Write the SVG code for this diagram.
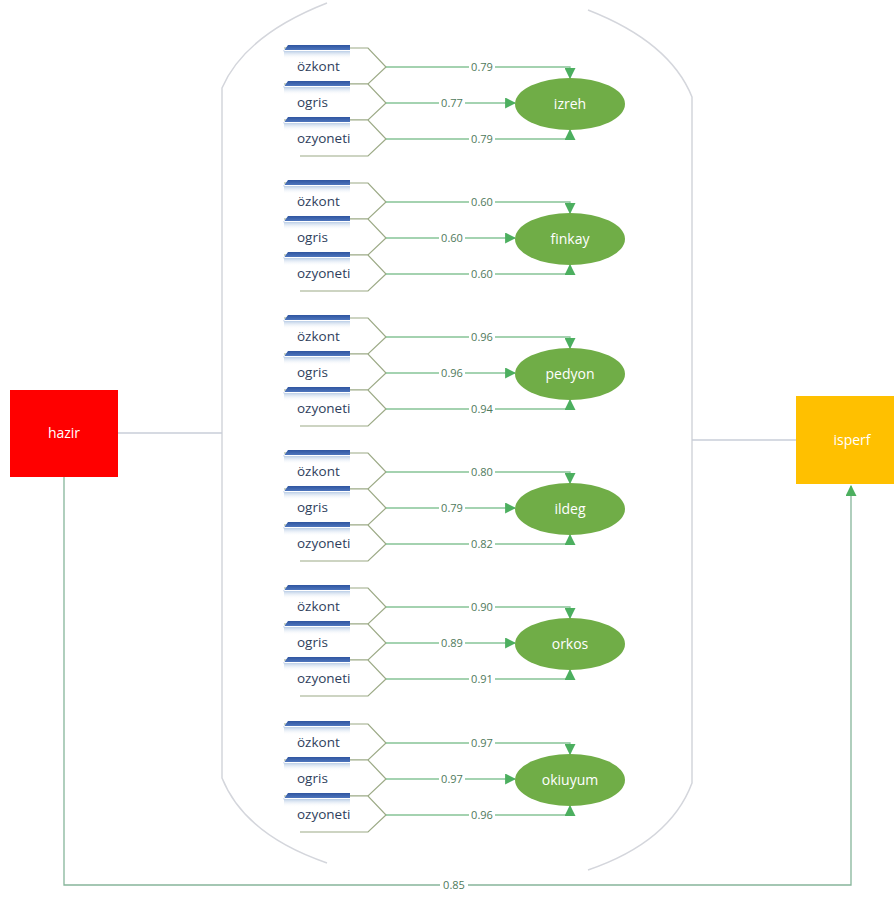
<svg xmlns="http://www.w3.org/2000/svg" width="894" height="897" viewBox="0 0 894 897">
<style>
.frame{fill:none;stroke:#d4d6dc;stroke-width:1.5}
.ind{fill:#ffffff;stroke:#9caa86;stroke-width:1.2}
.bar{fill:#3d64ae}
.itxt{font-family:"Open Sans","Liberation Sans",sans-serif;font-size:13.5px;fill:#2e3e5c}
.conn{fill:none;stroke:#86c497;stroke-width:1.3}
.lbl{font-family:"Open Sans","Liberation Sans",sans-serif;font-size:11px;fill:#4f7a5c;text-anchor:middle}
.lblbg{fill:#ffffff}
.lat{fill:#70ad47}
.ltxt{font-family:"Open Sans","Liberation Sans",sans-serif;font-size:14px;fill:#ffffff;text-anchor:middle}
.link{fill:none;stroke:#c9ced9;stroke-width:1.5}
.bottom{fill:none;stroke:#86b59a;stroke-width:1.3}
</style>
<defs>
<linearGradient id="shade" x1="0" y1="0" x2="0" y2="1">
<stop offset="0" stop-color="#b9cde6"/>
<stop offset="1" stop-color="#ffffff" stop-opacity="0"/>
</linearGradient>
<linearGradient id="barg" x1="0" y1="0" x2="0" y2="1">
<stop offset="0" stop-color="#2f55a0"/>
<stop offset="1" stop-color="#5a82c8"/>
</linearGradient>
<g id="indicator">
<path class="ind" d="M300,17 L368,17 L386,0 L368,-19 L284,-19"/>
<rect x="284" y="-16" width="66" height="8" fill="url(#shade)"/>
<path fill="url(#barg)" d="M288,-22 L350,-22 L350,-17 L284,-17 L283,-15 Z"/>
</g>
<marker id="ah" viewBox="0 0 10 10" refX="9" refY="5" markerWidth="11" markerHeight="11" markerUnits="userSpaceOnUse" orient="auto">
<path d="M0,0 L10,5 L0,10 Z" fill="#4caf5f"/>
</marker>
</defs>
<rect width="894" height="897" fill="#ffffff"/>

<g id="frame">
<path class="frame" d="M327,3 Q245,35 222,88 L222,778 Q245,835 327,863"/>
<path class="frame" d="M588,10 Q670,42 692,97 L692,783 Q670,842 588,870"/>
</g>

<g id="connectors">
<path class="link" d="M118,433 L222,433"/>
<path class="link" d="M692,440 L796,440"/>
<path class="bottom" d="M64,477 L64,885 L851,885 L851,486" marker-end="url(#ah)"/>
<rect class="lblbg" x="440" y="879" width="28" height="13"/>
<text class="lbl" x="454" y="889">0.85</text>
</g>

<g id="hazir">
<rect x="10" y="390" width="108" height="87" fill="#ff0000"/>
<text class="ltxt" x="64" y="438">hazir</text>
</g>
<g id="isperf">
<rect x="796" y="396" width="98" height="88" fill="#ffc000"/>
<text class="ltxt" x="852" y="445">isperf</text>
</g>

<g id="block-izreh" transform="translate(0,67)">
<use href="#indicator"/>
<use href="#indicator" y="36"/>
<use href="#indicator" y="72"/>
<text class="itxt" x="297" y="4">özkont</text>
<text class="itxt" x="297" y="40">ogris</text>
<text class="itxt" x="297" y="76">ozyoneti</text>
<path class="conn" d="M386,0 L570,0 L570,11" marker-end="url(#ah)"/>
<path class="conn" d="M386,36 L515,36" marker-end="url(#ah)"/>
<path class="conn" d="M386,72 L570,72 L570,63" marker-end="url(#ah)"/>
<rect class="lblbg" x="469" y="-6" width="26" height="12"/><text class="lbl" x="482" y="4">0.79</text>
<rect class="lblbg" x="439" y="30" width="26" height="12"/><text class="lbl" x="452" y="40">0.77</text>
<rect class="lblbg" x="469" y="66" width="26" height="12"/><text class="lbl" x="482" y="76">0.79</text>
<ellipse class="lat" cx="570" cy="37" rx="55" ry="26"/>
<text class="ltxt" x="570" y="42">izreh</text>
</g>

<g id="block-finkay" transform="translate(0,202)">
<use href="#indicator"/>
<use href="#indicator" y="36"/>
<use href="#indicator" y="72"/>
<text class="itxt" x="297" y="4">özkont</text>
<text class="itxt" x="297" y="40">ogris</text>
<text class="itxt" x="297" y="76">ozyoneti</text>
<path class="conn" d="M386,0 L570,0 L570,11" marker-end="url(#ah)"/>
<path class="conn" d="M386,36 L515,36" marker-end="url(#ah)"/>
<path class="conn" d="M386,72 L570,72 L570,63" marker-end="url(#ah)"/>
<rect class="lblbg" x="469" y="-6" width="26" height="12"/><text class="lbl" x="482" y="4">0.60</text>
<rect class="lblbg" x="439" y="30" width="26" height="12"/><text class="lbl" x="452" y="40">0.60</text>
<rect class="lblbg" x="469" y="66" width="26" height="12"/><text class="lbl" x="482" y="76">0.60</text>
<ellipse class="lat" cx="570" cy="37" rx="55" ry="26"/>
<text class="ltxt" x="570" y="42">finkay</text>
</g>

<g id="block-pedyon" transform="translate(0,337)">
<use href="#indicator"/>
<use href="#indicator" y="36"/>
<use href="#indicator" y="72"/>
<text class="itxt" x="297" y="4">özkont</text>
<text class="itxt" x="297" y="40">ogris</text>
<text class="itxt" x="297" y="76">ozyoneti</text>
<path class="conn" d="M386,0 L570,0 L570,11" marker-end="url(#ah)"/>
<path class="conn" d="M386,36 L515,36" marker-end="url(#ah)"/>
<path class="conn" d="M386,72 L570,72 L570,63" marker-end="url(#ah)"/>
<rect class="lblbg" x="469" y="-6" width="26" height="12"/><text class="lbl" x="482" y="4">0.96</text>
<rect class="lblbg" x="439" y="30" width="26" height="12"/><text class="lbl" x="452" y="40">0.96</text>
<rect class="lblbg" x="469" y="66" width="26" height="12"/><text class="lbl" x="482" y="76">0.94</text>
<ellipse class="lat" cx="570" cy="37" rx="55" ry="26"/>
<text class="ltxt" x="570" y="42">pedyon</text>
</g>

<g id="block-ildeg" transform="translate(0,472)">
<use href="#indicator"/>
<use href="#indicator" y="36"/>
<use href="#indicator" y="72"/>
<text class="itxt" x="297" y="4">özkont</text>
<text class="itxt" x="297" y="40">ogris</text>
<text class="itxt" x="297" y="76">ozyoneti</text>
<path class="conn" d="M386,0 L570,0 L570,11" marker-end="url(#ah)"/>
<path class="conn" d="M386,36 L515,36" marker-end="url(#ah)"/>
<path class="conn" d="M386,72 L570,72 L570,63" marker-end="url(#ah)"/>
<rect class="lblbg" x="469" y="-6" width="26" height="12"/><text class="lbl" x="482" y="4">0.80</text>
<rect class="lblbg" x="439" y="30" width="26" height="12"/><text class="lbl" x="452" y="40">0.79</text>
<rect class="lblbg" x="469" y="66" width="26" height="12"/><text class="lbl" x="482" y="76">0.82</text>
<ellipse class="lat" cx="570" cy="37" rx="55" ry="26"/>
<text class="ltxt" x="570" y="42">ildeg</text>
</g>

<g id="block-orkos" transform="translate(0,607)">
<use href="#indicator"/>
<use href="#indicator" y="36"/>
<use href="#indicator" y="72"/>
<text class="itxt" x="297" y="4">özkont</text>
<text class="itxt" x="297" y="40">ogris</text>
<text class="itxt" x="297" y="76">ozyoneti</text>
<path class="conn" d="M386,0 L570,0 L570,11" marker-end="url(#ah)"/>
<path class="conn" d="M386,36 L515,36" marker-end="url(#ah)"/>
<path class="conn" d="M386,72 L570,72 L570,63" marker-end="url(#ah)"/>
<rect class="lblbg" x="469" y="-6" width="26" height="12"/><text class="lbl" x="482" y="4">0.90</text>
<rect class="lblbg" x="439" y="30" width="26" height="12"/><text class="lbl" x="452" y="40">0.89</text>
<rect class="lblbg" x="469" y="66" width="26" height="12"/><text class="lbl" x="482" y="76">0.91</text>
<ellipse class="lat" cx="570" cy="37" rx="55" ry="26"/>
<text class="ltxt" x="570" y="42">orkos</text>
</g>

<g id="block-okiuyum" transform="translate(0,743)">
<use href="#indicator"/>
<use href="#indicator" y="36"/>
<use href="#indicator" y="72"/>
<text class="itxt" x="297" y="4">özkont</text>
<text class="itxt" x="297" y="40">ogris</text>
<text class="itxt" x="297" y="76">ozyoneti</text>
<path class="conn" d="M386,0 L570,0 L570,11" marker-end="url(#ah)"/>
<path class="conn" d="M386,36 L515,36" marker-end="url(#ah)"/>
<path class="conn" d="M386,72 L570,72 L570,63" marker-end="url(#ah)"/>
<rect class="lblbg" x="469" y="-6" width="26" height="12"/><text class="lbl" x="482" y="4">0.97</text>
<rect class="lblbg" x="439" y="30" width="26" height="12"/><text class="lbl" x="452" y="40">0.97</text>
<rect class="lblbg" x="469" y="66" width="26" height="12"/><text class="lbl" x="482" y="76">0.96</text>
<ellipse class="lat" cx="570" cy="37" rx="55" ry="26"/>
<text class="ltxt" x="570" y="42">okiuyum</text>
</g>
</svg>
